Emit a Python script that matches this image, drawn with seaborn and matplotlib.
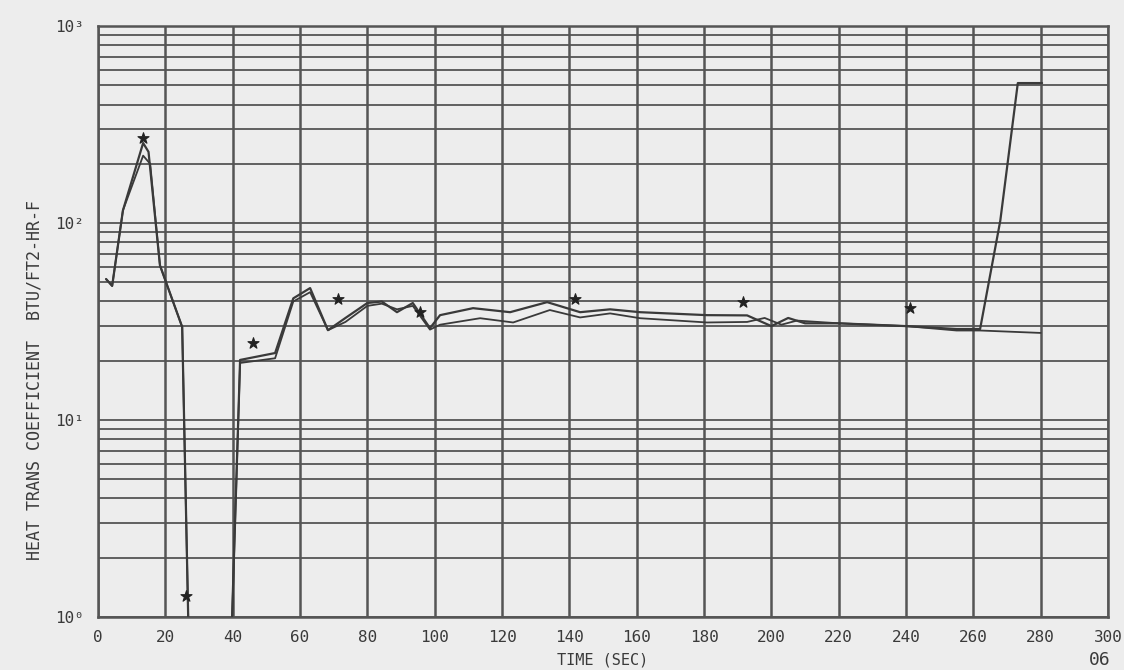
import matplotlib
matplotlib.use('Agg')
import matplotlib.pyplot as plt
import numpy as np
import pandas as pd
import seaborn as sns
from matplotlib.ticker import FixedLocator, LogLocator, NullFormatter

# --- data (time in s, HTC in BTU/FT2-HR-F) ---
time_a = [2.4, 4.2, 7.4, 13.4, 15.0, 18.4, 25.0, 28.0, 38.0, 42.2, 52.6, 58.0,
          63.0, 68.3, 73.5, 80.0, 84.3, 88.8, 93.5, 98.6, 101.6, 111.4, 122.4,
          133.4, 143.2, 152.1, 161.0, 180.9, 192.8, 200.0, 205.0, 210.0, 220.0,
          240.0, 255.0, 262.0, 268.0, 273.2, 280.4]
htc_a = [52, 48, 116, 255, 230, 61, 29.7, 0.1, 0.1, 20.2, 21.9, 41.5,
         46.8, 28.6, 33, 39.3, 40, 35.3, 39.3, 29.3, 34.1, 37, 35.3,
         39.7, 35.3, 36.5, 35.3, 34.1, 34.0, 30.0, 33.0, 31.0, 31.0,
         30.0, 29.0, 29.0, 103, 514, 514]

time_b = [2.4, 4.2, 7.4, 13.4, 15.5, 18.4, 25.0, 28.0, 38.0, 42.2, 52.6, 58.0,
          63.0, 68.3, 73.5, 80.0, 84.3, 88.8, 93.5, 98.6, 101.6, 113.5, 123.3,
          134.2, 143.2, 152.1, 161.0, 180.9, 192.8, 198.0, 203.0, 207.6, 220.0,
          240.0, 255.0, 262.0, 280.0]
htc_b = [52, 48, 116, 220, 200, 61, 29.7, 0.1, 0.1, 19.5, 20.6, 40.0,
         44.6, 28.6, 31.5, 38.0, 39.0, 36.5, 38.0, 28.8, 30.5, 32.9, 31.3,
         36.2, 33.2, 34.8, 32.9, 31.3, 31.5, 33.0, 30.5, 32.0, 31.0,
         30.0, 28.5, 28.5, 27.7]

# measured data points (symbols)
meas_time = [13.4, 26.0, 46.0, 71.3, 95.6, 141.7, 191.6, 241.2]
meas_htc = [270, 1.28, 24.6, 41.1, 35.3, 41.1, 39.7, 37.0]

x_ticks = list(range(0, 301, 20))
x_labels = [str(v) for v in x_ticks]
y_ticks = [1, 10, 100, 1000]
y_labels = ['10\u2070', '10\u00b9', '10\u00b2', '10\u00b3']

bg = '#ededed'
ink = '#3a3a3a'
grid_c = '#555555'

sns.set_style('white')
plt.rcParams['font.family'] = ['DejaVu Sans Mono', 'DejaVu Sans']

fig = plt.figure(figsize=(11.24, 6.70), dpi=100, facecolor=bg)
ax = fig.add_axes([0.0872, 0.079, 0.8986, 0.882])
ax.set_facecolor(bg)

df_a = pd.DataFrame({'t': time_a, 'h': htc_a})
df_b = pd.DataFrame({'t': time_b, 'h': htc_b})
df_m = pd.DataFrame({'t': meas_time, 'h': meas_htc})

sns.lineplot(data=df_a, x='t', y='h', ax=ax, sort=False, estimator=None,
             color=ink, linewidth=1.6, zorder=3)
sns.lineplot(data=df_b, x='t', y='h', ax=ax, sort=False, estimator=None,
             color=ink, linewidth=1.3, zorder=3)
sns.scatterplot(data=df_m, x='t', y='h', ax=ax, marker='*', s=70,
                color='#222222', edgecolor='#222222', linewidth=0.8, zorder=4)

ax.set_yscale('log')
ax.set_xlim(0, 300)
ax.set_ylim(1, 1000)

ax.xaxis.set_major_locator(FixedLocator(x_ticks))
ax.set_xticklabels(x_labels)
ax.yaxis.set_major_locator(FixedLocator(y_ticks))
ax.set_yticklabels(y_labels)
ax.yaxis.set_minor_locator(LogLocator(base=10, subs=np.arange(2, 10)))
ax.yaxis.set_minor_formatter(NullFormatter())

ax.grid(True, axis='x', which='major', color=grid_c, linewidth=1.8)
ax.grid(True, axis='y', which='both', color=grid_c, linewidth=1.3)
ax.set_axisbelow(True)

ax.tick_params(axis='both', which='both', length=0, colors=ink, labelsize=11.5)
ax.tick_params(axis='x', pad=9)
ax.tick_params(axis='y', pad=10)

for s in ax.spines.values():
    s.set_color(grid_c)
    s.set_linewidth(1.8)

ax.set_xlabel('TIME (SEC)', fontsize=11, color=ink, labelpad=6)
ax.set_ylabel('')
fig.text(0.031, 0.433, 'HEAT TRANS COEFFICIENT  BTU/FT2-HR-F', rotation=90,
         ha='center', va='center', fontsize=12, color=ink)
fig.text(0.978, 0.002, '06', ha='center', va='bottom', fontsize=13, color=ink)

fig.savefig('out.png', dpi=100, facecolor=bg)
